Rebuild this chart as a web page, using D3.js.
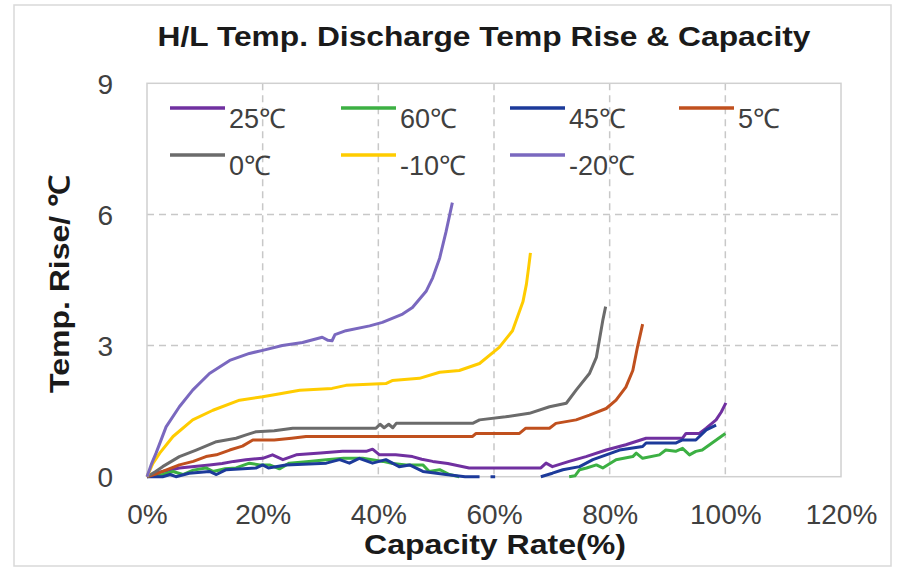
<!DOCTYPE html>
<html>
<head>
<meta charset="utf-8">
<script src="https://cdn.jsdelivr.net/npm/d3@7"></script>
<style>
  body { margin: 0; background: #fff; }
  svg { display: block; font-family: "Liberation Sans", Arial, sans-serif; }
</style>
</head>
<body>
<svg width="898" height="570"></svg>
<script>
(function () {

  // series: [capacity %, temp rise], null = gap in the line
  var s25 = [[0,0],[1.5,0.08],[2.7,0.12],[5.6,0.2],[10.8,0.27],[13,0.3],[15,0.35],[17.1,0.39],[20,0.42],[21.7,0.5],[23.5,0.39],[25.8,0.5],[30,0.54],[33.8,0.58],[37.9,0.58],[39,0.63],[40.2,0.5],[43,0.5],[45.9,0.46],[47.5,0.4],[49.4,0.35],[52,0.3],[55.7,0.2],[60,0.2],[64.4,0.2],[68.1,0.2],[69,0.31],[70.1,0.23],[73,0.35],[75.9,0.46],[79.4,0.61],[82.8,0.73],[86.3,0.88],[92.6,0.88],[93.2,0.99],[95.5,0.99],[96.7,1.11],[98.4,1.3],[99.3,1.48],[100.1,1.69]]
  var s60 = [[0,0],[2.7,0.05],[4.5,0.12],[6.2,0.05],[8,0.15],[10.2,0.2],[11.4,0.12],[13.5,0.18],[15.4,0.2],[17.7,0.31],[19.5,0.27],[21.2,0.27],[22.9,0.18],[24.6,0.31],[28,0.35],[31,0.39],[34,0.42],[37.3,0.42],[40.8,0.35],[42.5,0.3],[44.8,0.27],[47.7,0.27],[48.8,0.12],[50.6,0.16],[52.3,0.05],[54,0],
    null,
    [73,0],[74,0.02],[74.8,0.16],[76,0.2],[77.7,0.27],[78.8,0.2],[81.1,0.39],[84,0.46],[84.6,0.54],[85.7,0.42],[88.6,0.5],[89.7,0.61],[91.4,0.58],[92.6,0.65],[93.8,0.5],[94.9,0.58],[96,0.61],[97.7,0.77],[100,0.99]]
  var s45 = [[0,0],[2.7,0],[4,0.05],[5,0],[7.3,0.08],[10.8,0.12],[12,0.05],[13.7,0.16],[18.9,0.2],[20,0.27],[21,0.2],[24,0.27],[31,0.31],[33.3,0.39],[35,0.31],[36.7,0.42],[39,0.31],[41.3,0.39],[43.6,0.23],[45.4,0.27],[47.7,0.12],[51.7,0.05],[55,0],[57.5,0],
    null, [59.4,0],[60.2,0], null,
    [68.1,0],[70.1,0.08],[71.9,0.16],[74.8,0.23],[77.1,0.39],[79.4,0.5],[81.7,0.61],[85.7,0.69],[86.3,0.77],[91.4,0.77],[92.6,0.84],[94.9,0.84],[96.7,1.07],[98.4,1.18]]
  var s5 = [[0,0],[1.5,0.06],[2.7,0.12],[5.6,0.27],[8,0.35],[10.2,0.46],[12,0.5],[14.3,0.61],[16.5,0.7],[18.3,0.84],[22,0.84],[25,0.88],[27.5,0.92],[40,0.92],[50,0.92],[56.3,0.92],[56.9,0.99],[61,0.99],[64.4,0.99],[65.5,1.11],[69.6,1.11],[70.7,1.22],[74.2,1.3],[76.5,1.41],[79.4,1.56],[81.1,1.75],[82.8,2.05],[84,2.43],[84.8,2.96],[85.7,3.49]]
  var s0 = [[0,0],[1.5,0.12],[2.7,0.23],[5.6,0.46],[8.5,0.61],[12,0.8],[15.4,0.88],[17,0.95],[18.9,1.03],[22,1.05],[25.2,1.11],[35,1.11],[39.6,1.11],[40.3,1.2],[41,1.12],[41.8,1.2],[42.5,1.12],[43.1,1.22],[50,1.22],[56.3,1.22],[57.5,1.3],[62,1.37],[66.1,1.45],[69.6,1.6],[72.5,1.68],[74.2,1.98],[76.5,2.36],[77.7,2.73],[78.2,3.11],[78.8,3.57],[79.3,3.89]]
  var sm10 = [[0,0],[1,0.3],[2.2,0.54],[4.5,0.92],[7.9,1.3],[11.4,1.52],[16,1.75],[20,1.83],[23,1.9],[26.4,1.98],[32,2.02],[34.4,2.09],[41.3,2.13],[42.4,2.2],[47.1,2.25],[50.6,2.39],[54,2.43],[57.5,2.59],[60.9,2.96],[63.2,3.34],[65,4.0],[65.6,4.4],[66,4.8],[66.3,5.12]]
  var sm20 = [[0,0],[0.8,0.3],[1.6,0.55],[3.3,1.14],[5.6,1.6],[7.9,1.98],[10.8,2.36],[14.3,2.66],[17.7,2.82],[20,2.89],[23.4,3.0],[26.9,3.07],[30.3,3.19],[31.3,3.12],[32,3.11],[32.5,3.25],[34.4,3.34],[38.5,3.45],[40.7,3.53],[44.2,3.72],[45.9,3.87],[48.3,4.25],[49.4,4.55],[50.6,5.0],[51.7,5.6],[52.8,6.27]]

  var seriesNames = ['25℃', '60℃', '45℃', '5℃', '0℃', '-10℃', '-20℃']
  var seriesData = [s25, s60, s45, s5, s0, sm10, sm20]
  var colors = ['#7030a0', '#3cb043', '#1c3a9a', '#c0501e', '#6b6b6b', '#ffcc00', '#7a68bf']

  var xTicks = [0, 20, 40, 60, 80, 100, 120]
  var yTicks = [0, 3, 6, 9]

  var svg = d3.select('svg')

  // outer frame
  svg.append('rect')
    .attr('x', 14).attr('y', 5).attr('width', 877).attr('height', 561)
    .attr('fill', '#fff').attr('stroke', '#d9d9d9').attr('stroke-width', 1.5)

  var left = 147, right = 841, top = 83.3, bottom = 476.7

  var x = d3.scaleLinear().domain([0, 120]).range([left, right])
  var y = d3.scaleLinear().domain([0, 9]).range([bottom, top])

  // gridlines
  svg.append('g').selectAll('line')
    .data(xTicks.slice(1, -1))
    .enter().append('line')
    .attr('x1', function(d) { return x(d) }).attr('x2', function(d) { return x(d) })
    .attr('y1', top).attr('y2', bottom)
    .attr('stroke', '#c8c8c8').attr('stroke-width', 1.5).attr('stroke-dasharray', '7,5')

  svg.append('g').selectAll('line')
    .data(yTicks.slice(1, -1))
    .enter().append('line')
    .attr('y1', function(d) { return y(d) }).attr('y2', function(d) { return y(d) })
    .attr('x1', left).attr('x2', right)
    .attr('stroke', '#c8c8c8').attr('stroke-width', 1.5).attr('stroke-dasharray', '7,5')

  // plot area border
  svg.append('rect')
    .attr('x', left).attr('y', top).attr('width', right - left).attr('height', bottom - top)
    .attr('fill', 'none').attr('stroke', '#d0d0d0').attr('stroke-width', 1.5)

  // axes (labels only, the frame is drawn above)
  var xAxis = svg.append('g')
    .attr('transform', 'translate(0,' + (bottom + 47) + ')')
    .call(d3.axisBottom(x).tickValues(xTicks).tickSize(0).tickFormat(function(d) { return d + '%' }))
  xAxis.select('.domain').remove()
  xAxis.selectAll('text').attr('dy', 0).attr('y', 0)
    .style('font-size', '28px').attr('fill', '#404040')
    .attr('font-family', '"Liberation Sans", Arial, sans-serif')

  var yAxis = svg.append('g')
    .attr('transform', 'translate(' + (left - 34) + ',0)')
    .call(d3.axisLeft(y).tickValues(yTicks).tickSize(0))
  yAxis.select('.domain').remove()
  yAxis.selectAll('text').attr('x', 0).attr('dy', '0.36em')
    .style('font-size', '28px').attr('fill', '#404040')
    .attr('font-family', '"Liberation Sans", Arial, sans-serif')

  // lines
  var line = d3.line()
    .defined(function(d) { return d !== null })
    .x(function(d) { return x(d[0]) })
    .y(function(d) { return y(d[1]) })

  svg.append('g').selectAll('path')
    .data(seriesData)
    .enter().append('path')
    .attr('d', line)
    .attr('fill', 'none')
    .attr('stroke', function(d, i) { return colors[i] })
    .attr('stroke-width', 3)
    .attr('stroke-linejoin', 'round')

  // legend
  var legendX = [170, 341, 510, 679]
  var legend = svg.append('g').selectAll('g')
    .data(seriesNames)
    .enter().append('g')
    .attr('transform', function(d, i) {
      return 'translate(' + legendX[i % 4] + ',' + (108 + Math.floor(i / 4) * 47) + ')'
    })
  legend.append('line')
    .attr('x1', 0).attr('x2', 55).attr('y1', 0).attr('y2', 0)
    .attr('stroke', function(d, i) { return colors[i] })
    .attr('stroke-width', 3.5)
  legend.append('text')
    .attr('x', 59).attr('y', 20)
    .style('font-size', '27px').attr('fill', '#404040')
    .text(function(d) { return d })

  // titles
  svg.append('text')
    .attr('x', 484).attr('y', 46)
    .attr('text-anchor', 'middle')
    .style('font-size', '27px').style('font-weight', 'bold').attr('fill', '#1a1a1a')
    .attr('textLength', 653).attr('lengthAdjust', 'spacingAndGlyphs')
    .text('H/L Temp. Discharge  Temp Rise & Capacity')

  svg.append('text')
    .attr('x', 495).attr('y', 554)
    .attr('text-anchor', 'middle')
    .style('font-size', '28px').style('font-weight', 'bold').attr('fill', '#1a1a1a')
    .attr('textLength', 262).attr('lengthAdjust', 'spacingAndGlyphs')
    .text('Capacity Rate(%)')

  svg.append('text')
    .attr('transform', 'translate(69,284) rotate(-90)')
    .attr('text-anchor', 'middle')
    .style('font-size', '28px').style('font-weight', 'bold').attr('fill', '#1a1a1a')
    .attr('textLength', 218).attr('lengthAdjust', 'spacingAndGlyphs')
    .text('Temp. Rise/ ℃')

})()
</script>
</body>
</html>
